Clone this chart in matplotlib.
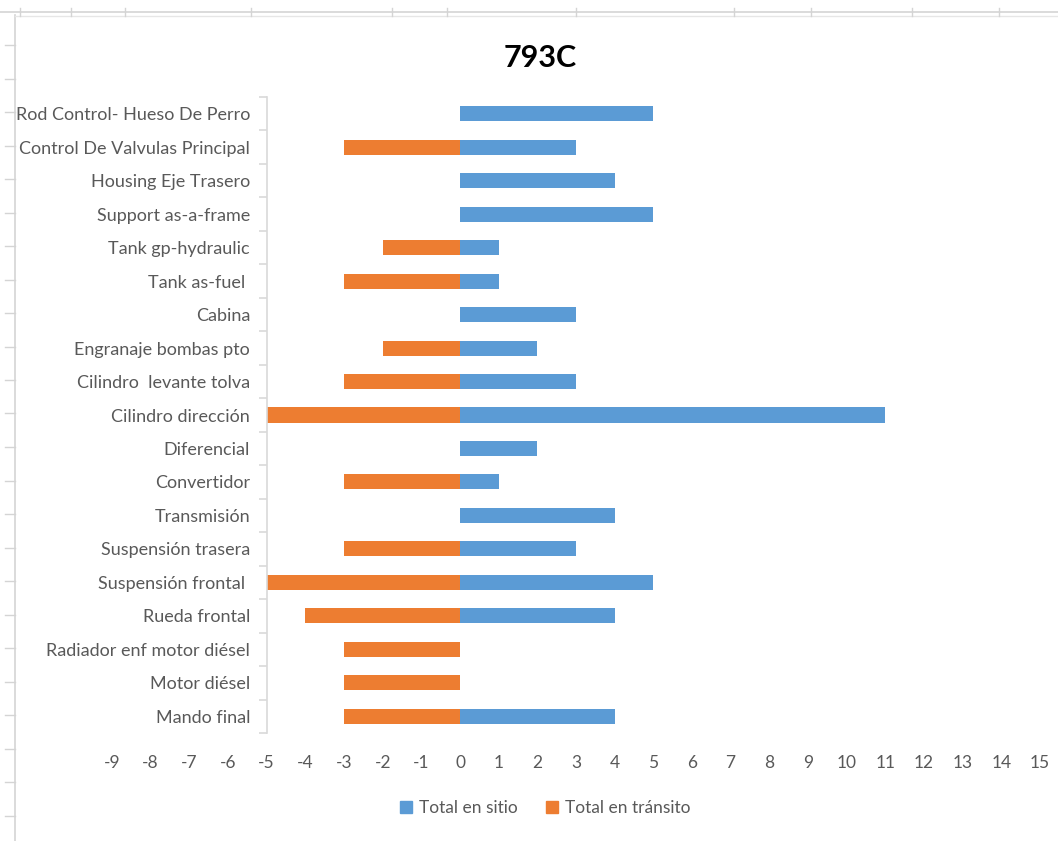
import matplotlib
matplotlib.use("Agg")
import matplotlib.pyplot as plt
from matplotlib.lines import Line2D
from matplotlib.patches import Patch
import numpy as np

plt.rcParams['font.family'] = ['Lato', 'DejaVu Sans']

categories = [
    "Rod Control- Hueso De Perro",
    "Control De Valvulas Principal",
    "Housing Eje Trasero",
    "Support as-a-frame",
    "Tank gp-hydraulic",
    "Tank as-fuel ",
    "Cabina",
    "Engranaje bombas pto",
    "Cilindro  levante tolva",
    "Cilindro dirección",
    "Diferencial",
    "Convertidor",
    "Transmisión",
    "Suspensión trasera",
    "Suspensión frontal ",
    "Rueda frontal",
    "Radiador enf motor diésel",
    "Motor diésel",
    "Mando final",
]
en_sitio = [5, 3, 4, 5, 1, 1, 3, 2, 3, 11, 2, 1, 4, 3, 5, 4, 0, 0, 4]
en_transito = [0, -3, 0, 0, -2, -3, 0, -2, -3, -5, 0, -3, 0, -3, -5, -4, -3, -3, -3]
x_ticks = list(range(-9, 16))

blue = "#5B9BD5"
orange = "#ED7D31"
gray_text = "#595959"
grid_gray = "#d9d9d9"

W, H = 1058, 841
fig = plt.figure(figsize=(W / 100, H / 100), dpi=100)

# spreadsheet cell grid behind the chart
fig.add_artist(Line2D([0.0, 1.0], [1 - 12 / H, 1 - 12 / H], color="#d4d4d4", lw=1.2))
fig.add_artist(Line2D([15 / W, 15 / W], [0.0, 1 - 15 / H], color="#d4d4d4", lw=1.2))
fig.add_artist(Line2D([15 / W, 1.0], [1 - 16 / H, 1 - 16 / H], color="#e6e6e6", lw=1.0))
for xp in [20, 71, 125, 251, 392, 447, 576, 734, 811, 912, 999]:
    fig.add_artist(Line2D([xp / W, xp / W], [1 - 8 / H, 1 - 16 / H], color="#d4d4d4", lw=1.0))
for yp in np.arange(45, 841, 33.5):
    fig.add_artist(Line2D([5 / W, 15 / W], [1 - yp / H, 1 - yp / H], color="#d4d4d4", lw=1.0))

ax = fig.add_axes([112 / W, 1 - 733 / H, (1040 - 112) / W, (733 - 97) / H])
y = np.arange(len(categories))
ax.barh(y, en_sitio, height=0.45, color=blue, linewidth=0, zorder=2)
ax.barh(y, en_transito, height=0.45, color=orange, linewidth=0, zorder=2)

ax.set_xlim(-9, 15)
ax.set_ylim(len(categories) - 0.5, -0.5)
ax.set_xticks(x_ticks)
ax.set_xticklabels([str(v) for v in x_ticks])
ax.set_yticks(y)
ax.set_yticklabels(categories)
ax.set_yticks(np.arange(-0.5, len(categories), 1.0), minor=True)

for s in ["top", "right", "bottom"]:
    ax.spines[s].set_visible(False)
ax.spines["left"].set_position(("data", -5))
ax.spines["left"].set_color(grid_gray)
ax.spines["left"].set_linewidth(1.2)

ax.tick_params(axis="y", which="major", length=0, pad=12, labelsize=13, labelcolor=gray_text)
ax.tick_params(axis="y", which="minor", length=6, width=1.2, color=grid_gray, direction="out")
ax.tick_params(axis="x", length=0, pad=16, labelsize=12.5, labelcolor=gray_text)

fig.text(540 / W, 1 - 58 / H, "793C", ha="center", va="center",
         fontsize=22, fontweight="bold", color="black")

handles = [Patch(color=blue, label="Total en sitio"), Patch(color=orange, label="Total en tránsito")]
fig.legend(handles=handles, loc="center", bbox_to_anchor=(545 / W, 1 - 808 / H), ncol=2,
           frameon=False, fontsize=12.5, handlelength=0.7, handleheight=0.7,
           handletextpad=0.4, columnspacing=1.6, labelcolor=gray_text)

fig.savefig("out.png", dpi=100)
